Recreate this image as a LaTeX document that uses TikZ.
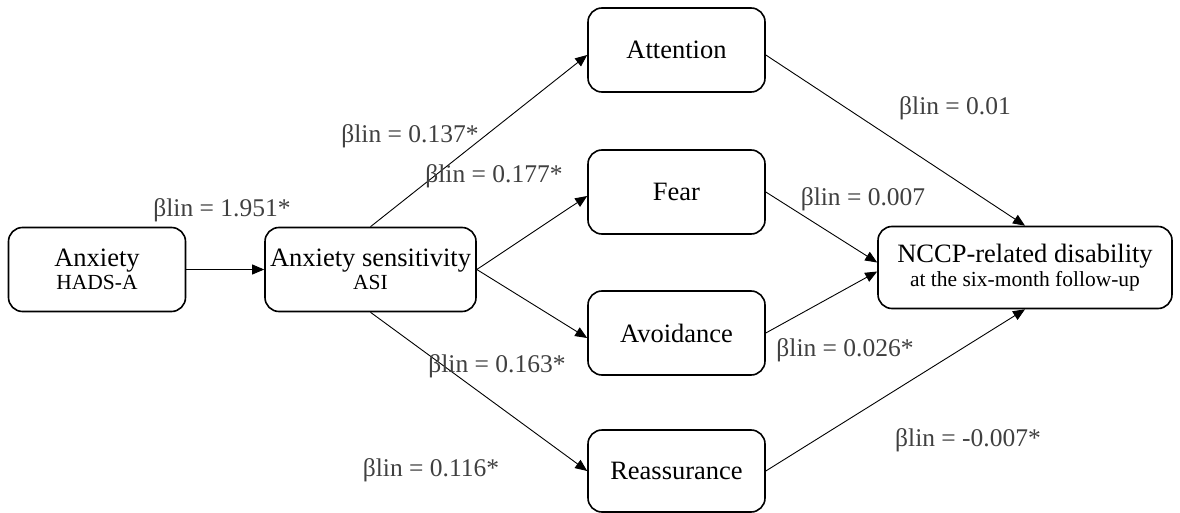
\documentclass[tikz,border=0pt]{standalone}
\usepackage{fontspec}
\setmainfont{Liberation Serif}
\usetikzlibrary{arrows.meta}
\definecolor{lblgray}{HTML}{404040}
\tikzset{
  box/.style={draw=black, line width=1.6pt, rounded corners=14pt, minimum width=177pt, minimum height=84pt, inner sep=0pt, align=center, font=\fontsize{26.5}{28}\selectfont},
  conn/.style={line width=0.9pt, -{Triangle[length=12pt,width=10pt]}},
  lbl/.style={text=lblgray, font=\fontsize{25.5}{27}\selectfont, inner sep=0pt},
}
\newcommand{\subtxt}[1]{{\fontsize{21.5}{22}\selectfont #1}}
\begin{document}
\begin{tikzpicture}[x=1pt,y=-1pt]
\useasboundingbox (0,0) rectangle (1180,513);
\node[box] (anx) at (97,269.5) {Anxiety\\[-5pt]\subtxt{HADS-A}};
\node[box, minimum width=211pt] (asi) at (370.5,269.5) {Anxiety sensitivity\\[-5pt]\subtxt{ASI}};
\node[box] (att) at (676.5,50) {Attention};
\node[box] (fear) at (676.5,192) {Fear};
\node[box] (avo) at (676.5,333) {Avoidance};
\node[box, minimum height=82pt] (rea) at (676.5,471) {Reassurance};
\node[box, minimum width=294pt, minimum height=82pt] (ncc) at (1025,267.5) {NCCP-related disability\\[-4pt]\subtxt{at the six-month follow-up}};

\draw[conn] (anx.east) -- (asi.west);
\draw[conn] (asi.north) -- ([yshift=-5pt]att.west);
\draw[conn] (asi.east) -- ([yshift=-4pt]fear.west);
\draw[conn] (asi.east) -- ([yshift=-5pt]avo.west);
\draw[conn] (asi.south) -- (rea.west);
\draw[conn] ([yshift=-5pt]att.east) -- (ncc.north);
\draw[conn] (fear.east) -- ([yshift=5pt]ncc.west);
\draw[conn] (avo.east) -- ([yshift=-4pt]ncc.west);
\draw[conn] (rea.east) -- (ncc.south);

\node[lbl] (l1) at (222,210) {βlin = 1.951*};
\node[lbl] (l2) at (410,136) {βlin = 0.137*};
\node[lbl] (l3) at (494,176) {βlin = 0.177*};
\node[lbl] (l4) at (497,366) {βlin = 0.163*};
\node[lbl] (l5) at (431,470) {βlin = 0.116*};
\node[lbl] (l6) at (955,108) {βlin = 0.01};
\node[lbl] (l7) at (863,199) {βlin = 0.007};
\node[lbl] (l8) at (845,350) {βlin = 0.026*};
\node[lbl] (l9) at (968,440) {βlin = -0.007*};
\end{tikzpicture}
\end{document}
